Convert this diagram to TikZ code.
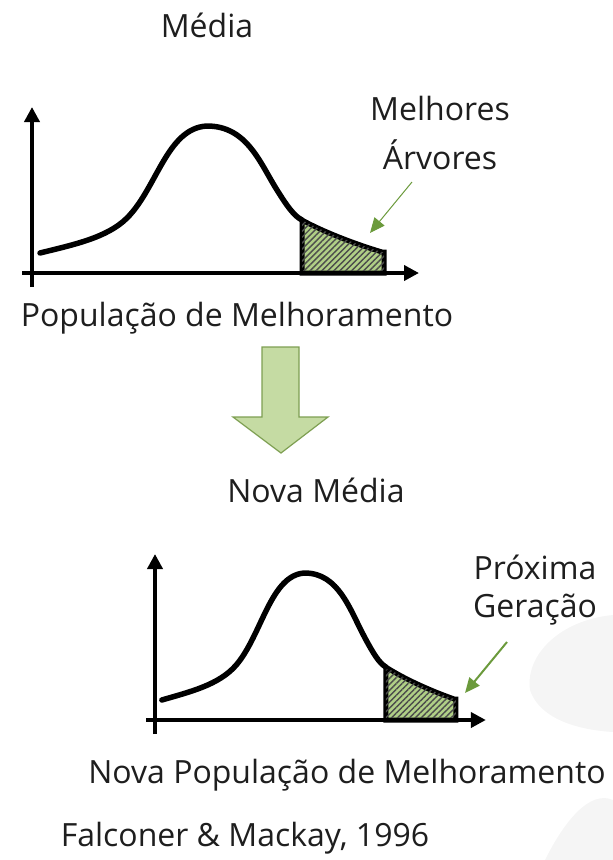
\documentclass[tikz,border=0pt]{standalone}
\usepackage{fontspec}
\setmainfont{Open Sans}
\usetikzlibrary{arrows.meta,patterns.meta}
\definecolor{lblgreen}{HTML}{6B9A3C}
\definecolor{arrfill}{HTML}{C5DBA3}
\definecolor{arredge}{HTML}{7E9F52}
\definecolor{shadefill}{HTML}{B0CF86}
\definecolor{txt}{HTML}{1E1E1E}
\tikzset{
  axis/.style={line width=4.3pt,-{Triangle[length=15pt,width=15pt]}},
  bell/.style={line width=5.5pt,line cap=round,line join=round},
  shade/.style={line width=5pt,line join=miter,fill=shadefill,
    postaction={pattern={Lines[angle=45,distance=4.2pt,line width=1.4pt]},pattern color=black!70}},
  lbl/.style={font=\fontsize{32}{38}\selectfont,text=txt,inner sep=0pt,align=center},
  pointer/.style={draw=lblgreen,-{Triangle[length=15pt,width=13pt]}},
  bigarrow/.style={fill=arrfill,draw=arredge,line width=1.2pt,line join=miter}
}
\newcommand{\bellchart}{%
  \draw[shade] (270,-53) .. controls (290,-42) and (320,-30) .. (350,-21) -- (352,-21) -- (352,0) -- (270,0) -- cycle;
  \draw[bell] (8,-20) .. controls (40,-28) and (75,-35) .. (95,-55)
     .. controls (125,-85) and (135,-145) .. (175,-147)
     .. controls (215,-147) and (228,-110) .. (245,-83)
     .. controls (255,-67) and (262,-57) .. (270,-53);
  \coordinate (yb) at (0,14); \coordinate (yt) at (0,-166);
  \coordinate (xl) at (-10,0); \coordinate (xr) at (387,0);
  \draw[axis] (yb) -- (yt);
  \draw[axis] (xl) -- (xr);
}
\begin{document}
\begin{tikzpicture}[x=1pt,y=-1pt]
\useasboundingbox (0,0) rectangle (613,860);
% faint background shapes
\fill[black!4] (613,615) .. controls (560,620) and (525,655) .. (530,690) .. controls (540,720) and (580,730) .. (613,732) -- cycle;
\fill[black!4] (613,800) .. controls (590,790) and (565,820) .. (545,860) -- (613,860) -- cycle;
% top chart
\begin{scope}[shift={(32,273)}]
  \bellchart
\end{scope}
\node[lbl] (media) at (207,25) {Média};
\node[lbl] (melh) at (440,108) {Melhores};
\node[lbl] (arv) at (440,155) {Árvores};
\coordinate (tip1) at (370,233);
\draw[pointer,line width=1pt] (412,182) -- (tip1);
\node[lbl] (pop) at (237,318) {População de Melhoramento};
% block arrow
\draw[bigarrow] (262,347) -- (299,347) -- (299,417) -- (328,417) -- (281,453) -- (233,417) -- (262,417) -- cycle;
\node[lbl] (nmedia) at (316,490) {Nova Média};
% bottom chart
\begin{scope}[shift={(155,720)},xscale=0.855]
  \bellchart
\end{scope}
\node[lbl] (prox) at (535,567) {Próxima};
\node[lbl] (ger) at (535,610) {Geração};
\coordinate (tip2) at (465,693);
\draw[pointer,line width=2pt] (507,642) -- (tip2);
\node[lbl] (npop) at (347,775) {Nova População de Melhoramento};
\node[lbl] (ref) at (245,838) {Falconer \& Mackay, 1996};
\end{tikzpicture}
\end{document}
